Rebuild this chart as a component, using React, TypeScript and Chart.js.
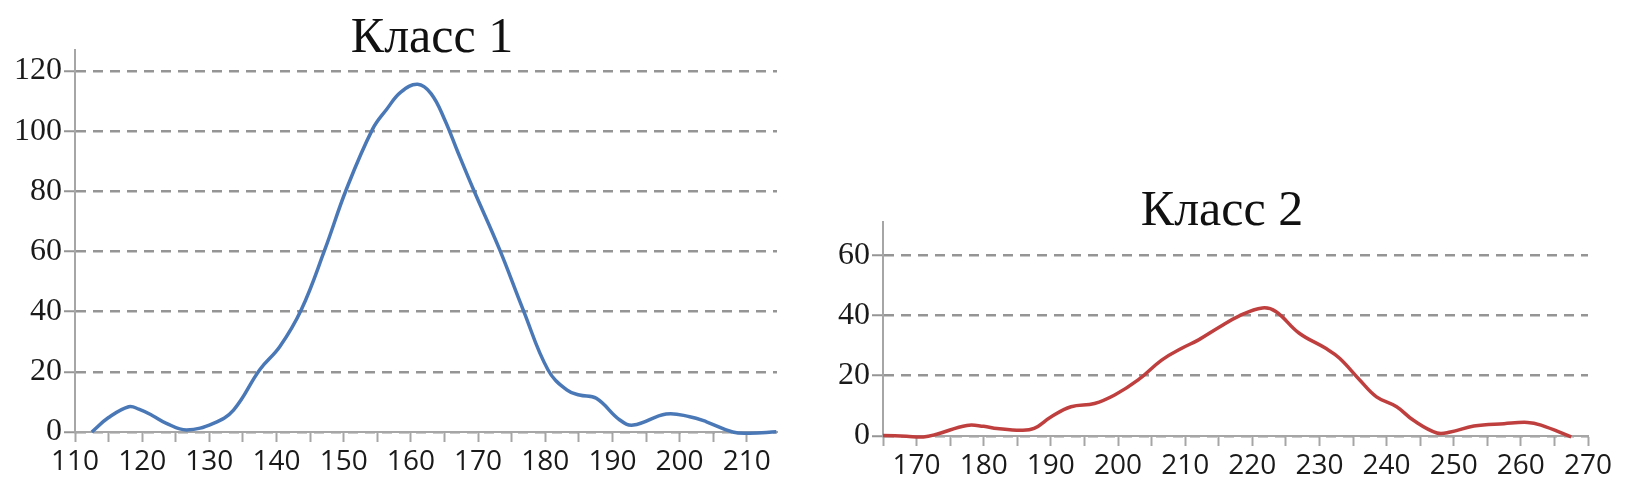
import React, { useEffect, useRef } from "react";
import { Chart, registerables } from "chart.js";

Chart.register(...registerables);

// ---- data ----
const title1 = "Класс 1";
const title2 = "Класс 2";

const class1X = [112.5, 115, 118, 119.5, 121.5, 123.6, 126.6, 130.6, 133.6, 137.5, 140.5, 143.7, 147.2, 150.4, 154.3, 156.4, 158.5, 161, 163, 165, 167, 169.3, 173.2, 176.7, 180.4, 183.2, 185.1, 187.6, 191.1, 193.1, 198, 201.5, 204, 207.9, 210.4, 214.4];
const class1Y = [0, 4.8, 8.4, 7.6, 5.5, 2.9, 0.7, 2.9, 7.3, 20.7, 28.4, 40.7, 60.7, 80.7, 100.7, 107.3, 113, 115.6, 112.5, 104, 93, 80.7, 60.7, 40.7, 20.7, 14, 12.3, 11.2, 4, 2.3, 6, 5.1, 3.4, 0, -0.4, 0.1];

const class2X = [165, 168.5, 171, 173, 177.5, 180, 182, 185.5, 187.5, 190, 193, 196.5, 199.5, 203, 206.5, 209.5, 212, 215, 218, 221.5, 223.5, 227, 231, 233, 236, 238.5, 241.5, 244, 247.5, 249.5, 253, 257.5, 261, 263, 267.5];
const class2Y = [0.2, -0.1, -0.3, 0.6, 3.5, 3.2, 2.5, 1.9, 2.5, 6.3, 9.7, 10.8, 13.6, 18.6, 25.2, 29.1, 31.9, 36, 39.8, 42.5, 41.3, 34.1, 29, 25.8, 18.6, 13, 9.7, 5.2, 1, 1.3, 3.3, 4.1, 4.5, 3.6, -0.3];

const xTickLabels1 = [110, 120, 130, 140, 150, 160, 170, 180, 190, 200, 210];
const xTickLabels2 = [170, 180, 190, 200, 210, 220, 230, 240, 250, 260, 270];
const yTickLabels1 = [0, 20, 40, 60, 80, 100, 120];
const yTickLabels2 = [0, 20, 40, 60];

const titlePlugin = {
  id: "panelTitle",
  afterDraw(chart: any, _args: any, o: any) {
    const ctx = chart.ctx;
    ctx.save();
    ctx.font = o.font;
    ctx.fillStyle = o.color;
    ctx.textAlign = "center";
    ctx.textBaseline = "alphabetic";
    ctx.fillText(o.text, o.x, o.y);
    ctx.restore();
  },
};

type PanelProps = {
  left: number;
  width: number;
  xs: number[];
  ys: number[];
  color: string;
  xMin: number;
  xMax: number;
  yMax: number;
  xLabels: number[];
  yLabels: number[];
  title: string;
  titleX: number;
  titleY: number;
  padTop: number;
  padRight: number;
  yAxisWidth: number;
  xAxisHeight: number;
};

function Panel(p: PanelProps) {
  const ref = useRef<HTMLCanvasElement | null>(null);
  useEffect(() => {
    if (!ref.current) return;
    const data = p.xs.map((x, i) => ({ x, y: p.ys[i] }));
    const gray = "#a6a6a6";
    const chart = new Chart(ref.current, {
      type: "line",
      data: {
        datasets: [
          {
            data,
            borderColor: p.color,
            borderWidth: 3.5,
            pointRadius: 0,
            tension: 0.4,
            fill: false,
            clip: 8,
          } as any,
        ],
      },
      plugins: [titlePlugin as any],
      options: {
        responsive: false,
        animation: false,
        events: [],
        layout: { padding: { top: p.padTop, right: p.padRight, left: 0, bottom: 0 } },
        plugins: {
          legend: { display: false },
          tooltip: { enabled: false },
          panelTitle: {
            text: p.title,
            x: p.titleX,
            y: p.titleY,
            font: '50px "Liberation Serif", "Times New Roman", serif',
            color: "#111",
          },
        } as any,
        scales: {
          x: {
            type: "linear",
            min: p.xMin,
            max: p.xMax,
            border: { display: true, color: gray, width: 2 },
            grid: {
              drawOnChartArea: false,
              drawTicks: true,
              tickLength: 10,
              tickColor: gray,
              tickWidth: 2,
            },
            ticks: {
              stepSize: 5,
              includeBounds: false,
              autoSkip: false,
              maxRotation: 0,
              padding: 3,
              color: "#1a1a1a",
              font: { family: '"Open Sans", sans-serif', size: 28 },
              callback: (v: any) => (p.xLabels.includes(Number(v)) ? String(v) : ""),
            },
            afterFit: (s: any) => {
              s.height = p.xAxisHeight;
              s.paddingLeft = 0;
              s.paddingRight = 0;
            },
          },
          y: {
            type: "linear",
            min: 0,
            max: p.yMax,
            border: { display: true, color: gray, width: 2, dash: [10, 7] },
            grid: {
              drawOnChartArea: true,
              color: "#959595",
              lineWidth: 2.5,
              drawTicks: true,
              tickLength: 11,
              tickColor: "#959595",
              tickWidth: 2,
              tickBorderDash: [],
            } as any,
            ticks: {
              stepSize: 20,
              includeBounds: false,
              padding: 2,
              color: "#1a1a1a",
              font: { family: '"Liberation Serif", "Times New Roman", serif', size: 32 },
              callback: (v: any) => (p.yLabels.includes(Number(v)) ? String(v) : ""),
            },
            afterFit: (s: any) => {
              s.width = p.yAxisWidth;
              s.paddingTop = 0;
              s.paddingBottom = 0;
            },
          },
        },
      },
    });
    return () => chart.destroy();
  }, []);
  return (
    <canvas
      ref={ref}
      width={p.width}
      height={486}
      style={{ position: "absolute", left: p.left, top: 0, width: p.width, height: 486 }}
    />
  );
}

export default function App() {
  return (
    <div style={{ position: "absolute", left: 0, top: 0, width: 1628, height: 486, background: "#fff" }}>
      <Panel
        left={0}
        width={800}
        xs={class1X}
        ys={class1Y}
        color="#4a78b7"
        xMin={110}
        xMax={214.5}
        yMax={127}
        xLabels={xTickLabels1}
        yLabels={yTickLabels1}
        title={title1}
        titleX={432}
        titleY={52}
        padTop={50}
        padRight={23}
        yAxisWidth={75}
        xAxisHeight={54}
      />
      <Panel
        left={800}
        width={828}
        xs={class2X}
        ys={class2Y}
        color="#bf3f3f"
        xMin={165}
        xMax={270}
        yMax={71}
        xLabels={xTickLabels2}
        yLabels={yTickLabels2}
        title={title2}
        titleX={422}
        titleY={225}
        padTop={222}
        padRight={40}
        yAxisWidth={83}
        xAxisHeight={50}
      />
    </div>
  );
}
